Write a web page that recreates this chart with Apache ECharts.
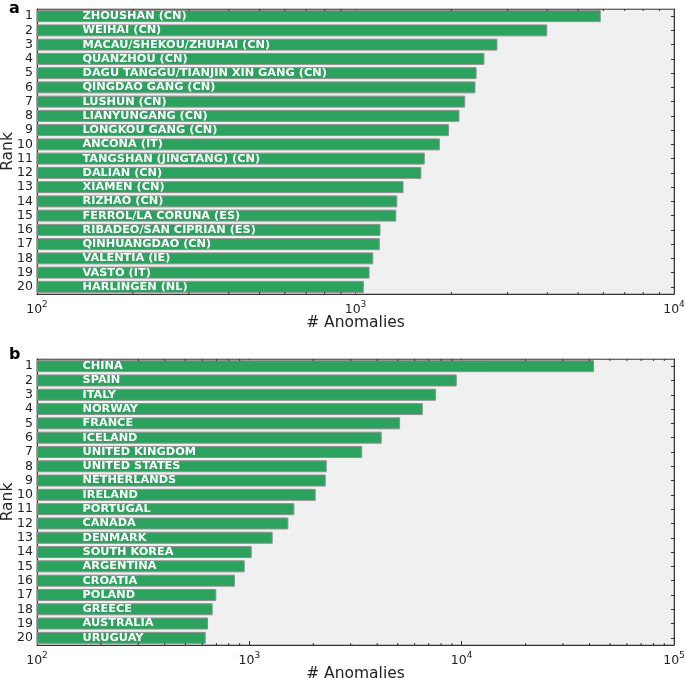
<!DOCTYPE html>
<html><head><meta charset="utf-8">
<script src="https://cdn.jsdelivr.net/npm/echarts@6/dist/echarts.min.js"></script>
<style>html,body{margin:0;padding:0;background:#fff}#c{width:685px;height:678px}</style>
</head><body><div id="c"></div>
<script>
const ranks = ['1','2','3','4','5','6','7','8','9','10','11','12','13','14','15','16','17','18','19','20'];
const portNames = ['ZHOUSHAN (CN)','WEIHAI (CN)','MACAU/SHEKOU/ZHUHAI (CN)','QUANZHOU (CN)','DAGU TANGGU/TIANJIN XIN GANG (CN)','QINGDAO GANG (CN)','LUSHUN (CN)','LIANYUNGANG (CN)','LONGKOU GANG (CN)','ANCONA (IT)','TANGSHAN (JINGTANG) (CN)','DALIAN (CN)','XIAMEN (CN)','RIZHAO (CN)','FERROL/LA CORUNA (ES)','RIBADEO/SAN CIPRIAN (ES)','QINHUANGDAO (CN)','VALENTIA (IE)','VASTO (IT)','HARLINGEN (NL)'];
const portValues = [5890,4000,2790,2540,2400,2380,2210,2120,1965,1840,1650,1610,1415,1353,1343,1198,1192,1137,1107,1062];
const countryNames = ['CHINA','SPAIN','ITALY','NORWAY','FRANCE','ICELAND','UNITED KINGDOM','UNITED STATES','NETHERLANDS','IRELAND','PORTUGAL','CANADA','DENMARK','SOUTH KOREA','ARGENTINA','CROATIA','POLAND','GREECE','AUSTRALIA','URUGUAY'];
const countryValues = [42000,9480,7580,6560,5130,4200,3400,2315,2290,2054,1630,1527,1288,1026,951,856,699,672,639,623];
const minorA = [200,300,400,500,600,700,800,900,2000,3000,4000,5000,6000,7000,8000,9000];
const minorB = [200,300,400,500,600,700,800,900,2000,3000,4000,5000,6000,7000,8000,9000,20000,30000,40000,50000,60000,70000,80000,90000];

const FONT = 'DejaVu Sans';
const GREEN = '#2ca25f';
const chart = echarts.init(document.getElementById('c'), null, {renderer:'canvas'});

function logLabel(v){
  const e = Math.round(Math.log10(v));
  return '{b|10}{s|' + e + '}';
}
const richLbl = {
  b:{fontSize:12.5, fontFamily:FONT, color:'#222', lineHeight:16, verticalAlign:'bottom'},
  s:{fontSize:9, fontFamily:FONT, color:'#222', lineHeight:16, verticalAlign:'top', padding:[0,0,6,0]}
};

function xAxes(gi, max, bottom){
  return {
    type:'log', logBase:10, min:100, max:max, gridIndex:gi,
    position: bottom ? 'bottom' : 'top',
    name: bottom ? '# Anomalies' : '', nameLocation:'middle', nameGap:21, nameMoveOverlap:false,
    nameTextStyle:{fontFamily:FONT, fontSize:15.5, color:'#222', verticalAlign:'top'},
    axisLine:{show:true, lineStyle:{color: bottom ? '#333' : '#666', width:1}},
    axisTick:{show:true, inside:true, length:4, lineStyle:{color:'#333'}},
    axisLabel:{show:bottom, formatter:logLabel, rich:richLbl, margin:6},
    splitLine:{show:false}, minorTick:{show:false}
  };
}
function yAxes(gi, left){
  return {
    type:'category', data:ranks, inverse:true, gridIndex:gi,
    position: left ? 'left' : 'right',
    name: left ? 'Rank' : '', nameLocation:'middle', nameGap:21, nameRotate:90, nameMoveOverlap:false,
    nameTextStyle:{fontFamily:FONT, fontSize:15.5, color:'#222'},
    axisLine:{show:true, lineStyle:{color:'#333'}},
    axisTick:{show:true, inside:true, length:3, alignWithLabel:true, interval:0, lineStyle:{color:'#333'}},
    axisLabel:{show:left, interval:0, fontFamily:FONT, fontSize:12.5, color:'#222', margin:4},
    splitLine:{show:false}
  };
}
function barSeries(xi, yi, vals, names){
  return {
    type:'bar', xAxisIndex:xi, yAxisIndex:yi,
    data: vals.map((v,i)=>({value:v, name:names[i]})),
    barCategoryGap:'16%',
    itemStyle:{color:GREEN, borderColor:'#8f8f8f', borderWidth:1},
    label:{show:true, position:[46,'50%'], align:'left', verticalAlign:'middle',
      formatter:(p)=>p.name, color:'#fff', fontWeight:'bold', fontFamily:FONT, fontSize:11.3},
    silent:true, animation:false, z:2
  };
}
function minorSeries(xi, yi, vals){
  return {
    type:'custom', xAxisIndex:xi, yAxisIndex:yi, silent:true, animation:false, z:5,
    data: vals.map(v=>[v, 0]),
    renderItem:(params, api)=>{
      const x = api.coord([api.value(0), 0])[0];
      const cs = params.coordSys;
      return {type:'group', children:[
        {type:'line', shape:{x1:x, y1:cs.y+cs.height, x2:x, y2:cs.y+cs.height-2}, style:{stroke:'#333', lineWidth:1}},
        {type:'line', shape:{x1:x, y1:cs.y, x2:x, y2:cs.y+2}, style:{stroke:'#333', lineWidth:1}}
      ]};
    }
  };
}

chart.setOption({
  animation:false,
  textStyle:{fontFamily:FONT},
  title:[
    {text:'a', left:4, top:-4, textStyle:{fontFamily:FONT, fontSize:16, fontWeight:'bold', color:'#000'}},
    {text:'b', left:4, top:342, textStyle:{fontFamily:FONT, fontSize:16, fontWeight:'bold', color:'#000'}}
  ],
  grid:[
    {left:37, right:11, top:9, height:285, containLabel:false, outerBoundsMode:'none', show:true, backgroundColor:'#f0f0f0', borderColor:'#888', borderWidth:1},
    {left:37, right:11, top:359, height:286, containLabel:false, outerBoundsMode:'none', show:true, backgroundColor:'#f0f0f0', borderColor:'#888', borderWidth:1}
  ],
  xAxis:[xAxes(0,10000,true), xAxes(0,10000,false), xAxes(1,100000,true), xAxes(1,100000,false)],
  yAxis:[yAxes(0,true), yAxes(0,false), yAxes(1,true), yAxes(1,false)],
  series:[
    barSeries(0,0,portValues,portNames),
    barSeries(2,2,countryValues,countryNames),
    minorSeries(0,0,minorA),
    minorSeries(2,2,minorB)
  ]
});
</script></body></html>
